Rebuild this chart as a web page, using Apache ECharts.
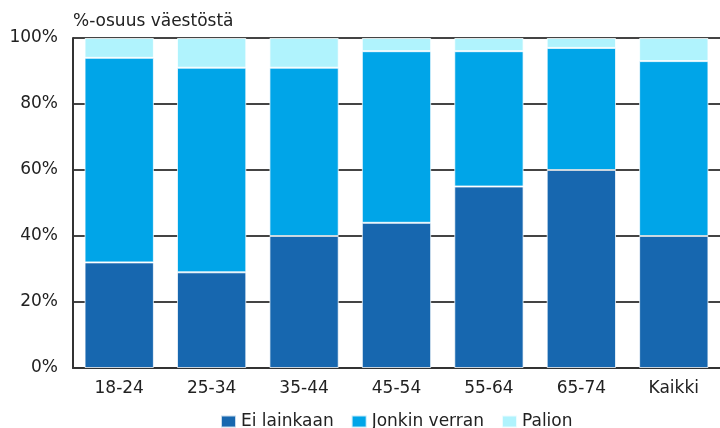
<!DOCTYPE html>
<html>
<head>
<meta charset="utf-8">
<script src="https://cdn.jsdelivr.net/npm/echarts@6/dist/echarts.min.js"></script>
<style>html,body{margin:0;padding:0;background:#fff}#c{width:720px;height:428px}</style>
</head>
<body>
<div id="c"></div>
<script>
const categories = ['18-24', '25-34', '35-44', '45-54', '55-64', '65-74', 'Kaikki'];
const eiLainkaan = [32, 29, 40, 44, 55, 60, 40];
const jonkinVerran = [62, 62, 51, 52, 41, 37, 53];
const palion = [6, 9, 9, 4, 4, 3, 7];
const yTicks = [0, 20, 40, 60, 80, 100];

const font = 'DejaVu Sans';
const chart = echarts.init(document.getElementById('c'), null, {renderer: 'canvas'});
const border = {borderColor: 'rgba(255,255,255,0.75)', borderWidth: 1};
chart.setOption({
  animation: false,
  backgroundColor: '#ffffff',
  grid: {left: 73, right: -4, top: 38, bottom: 60, containLabel: false},
  legend: {
    left: 215, top: 408,
    itemWidth: 15, itemHeight: 12, itemGap: 17,
    icon: 'rect',
    textStyle: {fontFamily: font, fontSize: 17, color: '#222'},
    data: ['Ei lainkaan', 'Jonkin verran', 'Palion']
  },
  xAxis: {
    type: 'category',
    data: categories,
    axisLine: {show: true, lineStyle: {color: '#333', width: 2}},
    axisTick: {show: false},
    axisLabel: {margin: 12, fontFamily: font, fontSize: 17, color: '#222'}
  },
  yAxis: {
    type: 'value',
    min: yTicks[0], max: yTicks[yTicks.length - 1], interval: 20,
    name: '%-osuus väestöstä',
    nameLocation: 'end',
    nameGap: 8,
    nameTextStyle: {align: 'left', fontFamily: font, fontSize: 17, color: '#222'},
    axisLine: {show: true, lineStyle: {color: '#333', width: 2}},
    axisTick: {show: false},
    axisLabel: {margin: 15, fontFamily: font, fontSize: 17, color: '#222', formatter: '{value}%'},
    splitLine: {show: true, lineStyle: {color: '#444', width: 2}}
  },
  series: [
    {name: 'Ei lainkaan', type: 'bar', stack: 't', data: eiLainkaan, barCategoryGap: '25%',
     itemStyle: Object.assign({color: '#1767AF'}, border)},
    {name: 'Jonkin verran', type: 'bar', stack: 't', data: jonkinVerran,
     itemStyle: Object.assign({color: '#00A5E8'}, border)},
    {name: 'Palion', type: 'bar', stack: 't', data: palion,
     itemStyle: Object.assign({color: '#B0F3FD'}, border)}
  ]
});
</script>
</body>
</html>
